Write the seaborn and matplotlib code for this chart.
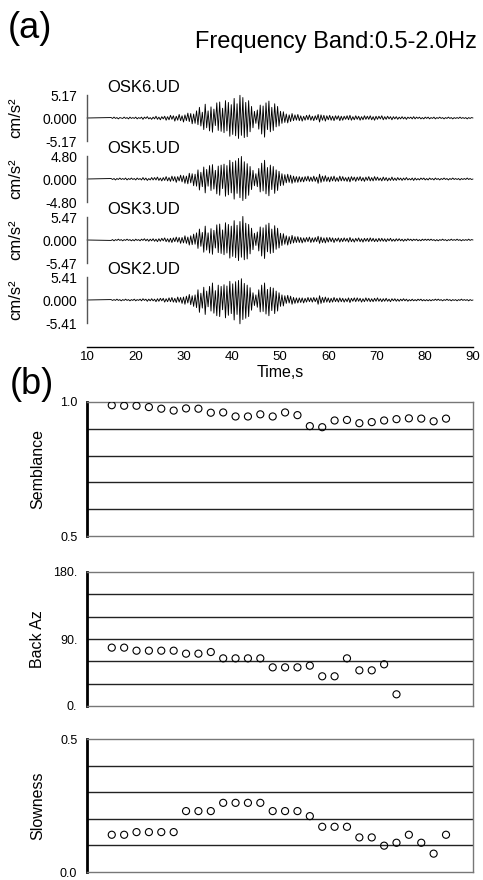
import numpy as np
import matplotlib
matplotlib.use("Agg")
import matplotlib.pyplot as plt
import seaborn as sns

# ---------------- data ----------------
stations = ["OSK6.UD", "OSK5.UD", "OSK3.UD", "OSK2.UD"]
amp_scale = [5.17, 4.80, 5.47, 5.41]
time_ticks = [10, 20, 30, 40, 50, 60, 70, 80, 90]
trace_start = 15.0   # s, first sample of the filtered traces
trace_dt = 0.3

osk6 = [0.1,-0.1,0.2,-0.1,0.1,-0.2,0.1,0.0,-0.1,0.2,
        -0.1,0.1,-0.2,0.2,-0.1,0.1,-0.1,0.2,-0.2,0.1,
        -0.1,0.2,-0.3,0.2,-0.1,0.3,-0.2,0.1,-0.3,0.2,
        -0.2,0.4,-0.3,0.2,-0.4,0.3,-0.2,0.4,-0.5,0.3,
        -0.4,0.6,-0.3,0.5,-0.7,0.4,-0.5,0.8,-0.6,0.5,
        -0.9,0.7,-0.6,1.1,-0.8,1.0,-1.3,0.9,-1.2,1.6,
        -1.5,2.4,-1.8,1.3,-2.6,3.1,-2.2,1.6,-2.9,2.5,
        -3.2,2.0,-1.7,3.4,-2.8,3.6,-3.0,2.2,-3.3,3.9,
        -2.9,3.5,-4.1,3.0,-3.7,4.4,-4.0,3.2,-4.6,5.1,
        -3.9,4.6,-4.4,3.5,-4.2,3.9,-3.1,2.6,-2.2,1.5,
        -1.2,1.8,-2.5,2.9,-3.6,2.7,-4.3,3.4,-2.6,3.8,
        -3.1,2.4,-2.8,3.2,-2.0,2.6,-1.8,1.5,-1.2,1.4,
        -1.0,0.9,-1.1,0.7,-0.8,1.0,-0.6,0.7,-0.5,0.8,
        -0.6,0.5,-0.7,0.4,-0.5,0.6,-0.4,0.7,-0.5,0.4,
        -0.6,0.5,-0.4,0.8,-0.9,0.7,-0.5,0.6,-0.7,0.5,
        -0.4,0.6,-0.5,0.4,-0.6,0.5,-0.3,0.5,-0.6,0.4,
        -0.5,0.4,-0.3,0.5,-0.4,0.6,-0.5,0.3,-0.4,0.5,
        -0.3,0.4,-0.5,0.3,-0.4,0.5,-0.3,0.4,-0.3,0.5,
        -0.4,0.3,-0.5,0.4,-0.3,0.4,-0.2,0.5,-0.4,0.3,
        -0.3,0.4,-0.2,0.3,-0.4,0.3,-0.2,0.3,-0.3,0.2,
        -0.2,0.3,-0.2,0.2,-0.3,0.2,-0.1,0.2,-0.2,0.3,
        -0.2,0.2,-0.1,0.2,-0.2,0.1,-0.2,0.2,-0.1,0.2,
        -0.2,0.1,-0.1,0.2,-0.2,0.1,-0.1,0.2,-0.1,0.1,
        -0.2,0.1,-0.1,0.2,-0.1,0.1,-0.2,0.1,-0.1,0.1,
        -0.1,0.2,-0.1,0.1,-0.1,0.1,-0.2,0.1,-0.1,0.1,0.0]

osk5 = [0.1,-0.1,0.1,-0.2,0.1,-0.1,0.2,-0.1,0.1,-0.1,
        0.2,-0.2,0.1,-0.1,0.2,-0.1,0.1,-0.2,0.2,-0.1,
        0.1,-0.2,0.3,-0.2,0.2,-0.3,0.1,-0.2,0.3,-0.2,
        0.3,-0.2,0.4,-0.3,0.2,-0.4,0.3,-0.3,0.5,-0.4,
        0.3,-0.5,0.6,-0.4,0.5,-0.7,0.5,-0.4,0.8,-0.6,
        0.7,-0.9,0.6,-1.0,1.2,-0.8,1.1,-1.4,1.0,-1.5,
        1.9,-2.3,1.4,-1.6,2.5,-2.9,2.0,-1.5,2.8,-2.4,
        3.0,-2.1,1.8,-3.1,2.7,-3.4,2.9,-2.0,3.1,-3.6,
        2.8,-3.3,3.9,-2.9,3.5,-4.2,3.8,-3.0,4.3,-3.9,
        4.7,-4.5,3.6,-4.1,3.2,-3.4,2.6,-2.2,1.8,-1.4,
        1.1,-1.6,2.2,-2.7,3.3,-2.5,3.9,-3.1,2.4,-3.5,
        2.9,-2.2,2.6,-3.0,1.9,-2.4,1.6,-1.4,1.1,-1.3,
        0.9,-0.8,1.0,-0.7,0.8,-0.9,0.6,-0.7,0.5,-0.7,
        0.5,-0.6,0.4,-0.6,0.5,-0.4,0.6,-0.5,0.4,-0.5,
        0.6,-0.5,0.4,-0.9,1.0,-0.7,0.6,-0.5,0.7,-0.5,
        0.4,-0.6,0.5,-0.4,0.6,-0.5,0.3,-0.5,0.6,-0.4,
        0.5,-0.4,0.3,-0.5,0.4,-0.6,0.5,-0.3,0.4,-0.5,
        0.4,-0.3,0.5,-0.4,0.3,-0.5,0.4,-0.3,0.5,-0.4,
        0.3,-0.4,0.5,-0.3,0.4,-0.3,0.2,-0.4,0.4,-0.3,
        0.3,-0.4,0.2,-0.3,0.4,-0.3,0.2,-0.3,0.3,-0.2,
        0.2,-0.3,0.2,-0.2,0.3,-0.2,0.1,-0.2,0.2,-0.3,
        0.2,-0.2,0.1,-0.2,0.2,-0.1,0.2,-0.2,0.1,-0.2,
        0.2,-0.1,0.1,-0.2,0.2,-0.1,0.1,-0.2,0.1,-0.1,
        0.2,-0.1,0.1,-0.2,0.1,-0.1,0.2,-0.1,0.1,-0.1,
        0.1,-0.2,0.1,-0.1,0.1,-0.1,0.2,-0.1,0.1,-0.1,0.0]

osk3 = [-0.1,0.1,-0.2,0.1,-0.1,0.2,-0.1,0.1,-0.2,0.1,
        -0.1,0.2,-0.1,0.1,-0.2,0.1,-0.2,0.2,-0.1,0.1,
        -0.2,0.2,-0.1,0.3,-0.2,0.2,-0.3,0.2,-0.2,0.3,
        -0.3,0.2,-0.4,0.3,-0.3,0.4,-0.2,0.5,-0.4,0.3,
        -0.5,0.4,-0.6,0.5,-0.4,0.7,-0.5,0.6,-0.8,0.6,
        -0.7,1.0,-0.8,0.7,-1.2,1.0,-1.1,1.4,-1.0,1.7,
        -2.0,2.6,-1.5,1.8,-2.9,3.3,-2.4,1.7,-3.1,2.7,
        -3.4,2.3,-1.9,3.6,-3.0,3.8,-3.2,2.4,-3.5,4.1,
        -3.1,3.7,-4.3,3.3,-3.9,4.6,-4.2,3.5,-4.9,4.4,
        -4.1,5.6,-4.7,4.0,-4.5,3.7,-3.3,2.8,-2.3,1.6,
        -1.3,1.9,-2.6,3.1,-3.8,2.9,-4.4,3.6,-2.8,4.0,
        -3.2,2.6,-3.0,3.4,-2.2,2.8,-1.9,1.6,-1.3,1.5,
        -1.0,1.0,-1.2,0.8,-0.9,1.1,-0.7,0.8,-0.6,0.8,
        -0.6,0.6,-0.7,0.5,-0.5,0.6,-0.4,0.7,-0.6,0.5,
        -0.5,0.6,-0.4,0.9,-0.8,0.7,-0.6,0.5,-0.7,0.6,
        -0.5,0.6,-0.4,0.5,-0.6,0.4,-0.3,0.5,-0.5,0.4,
        -0.4,0.5,-0.3,0.4,-0.5,0.6,-0.4,0.3,-0.5,0.4,
        -0.3,0.5,-0.4,0.3,-0.5,0.4,-0.3,0.4,-0.4,0.5,
        -0.3,0.4,-0.4,0.3,-0.4,0.4,-0.3,0.4,-0.3,0.3,
        -0.4,0.3,-0.2,0.4,-0.3,0.2,-0.3,0.3,-0.2,0.3,
        -0.2,0.2,-0.3,0.2,-0.2,0.3,-0.1,0.2,-0.2,0.2,
        -0.1,0.2,-0.2,0.1,-0.2,0.2,-0.1,0.2,-0.1,0.2,
        -0.1,0.2,-0.1,0.1,-0.2,0.1,-0.2,0.1,-0.1,0.2,
        -0.1,0.1,-0.2,0.1,-0.1,0.2,-0.1,0.1,-0.1,0.2,
        -0.1,0.1,-0.2,0.1,-0.1,0.1,-0.1,0.2,-0.1,0.1,0.0]

osk2 = [0.1,-0.1,0.1,-0.1,0.2,-0.1,0.1,-0.2,0.1,-0.1,
        0.2,-0.1,0.1,-0.2,0.1,-0.1,0.2,-0.2,0.1,-0.1,
        0.2,-0.2,0.3,-0.1,0.2,-0.3,0.2,-0.2,0.3,-0.2,
        0.2,-0.4,0.3,-0.3,0.4,-0.2,0.4,-0.5,0.3,-0.4,
        0.5,-0.4,0.6,-0.5,0.4,-0.6,0.7,-0.5,0.6,-0.8,
        0.7,-1.0,0.9,-0.7,1.3,-1.1,1.0,-1.5,1.2,-1.8,
        2.4,-2.9,1.6,-1.9,3.0,-3.4,2.1,-1.6,3.2,-2.6,
        4.0,-3.1,2.2,-3.7,3.5,-3.9,3.2,-2.3,3.6,-4.2,
        3.3,-3.6,4.4,-3.2,3.8,-4.7,4.3,-3.4,4.6,-5.6,
        5.0,-4.6,3.9,-4.3,3.5,-3.9,2.9,-2.4,1.7,-1.3,
        1.2,-1.7,2.4,-2.8,3.5,-2.7,4.0,-3.3,2.5,-3.7,
        3.0,-2.5,2.8,-3.2,2.1,-2.6,1.7,-1.5,1.2,-1.4,
        1.0,-0.8,1.1,-0.7,0.9,-1.0,0.6,-0.8,0.5,-0.7,
        0.5,-0.6,0.5,-0.7,0.4,-0.5,0.6,-0.4,0.5,-0.5,
        0.6,-0.4,0.5,-1.0,1.0,-0.8,0.6,-0.6,0.7,-0.5,
        0.5,-0.6,0.4,-0.5,0.6,-0.4,0.4,-0.5,0.5,-0.4,
        0.4,-0.5,0.3,-0.4,0.5,-0.6,0.4,-0.3,0.5,-0.4,
        0.5,-0.3,0.4,-0.5,0.3,-0.4,0.5,-0.3,0.4,-0.4,
        0.3,-0.4,0.4,-0.3,0.5,-0.3,0.3,-0.4,0.3,-0.3,
        0.4,-0.3,0.2,-0.4,0.3,-0.2,0.3,-0.3,0.2,-0.3,
        0.2,-0.2,0.3,-0.2,0.2,-0.3,0.1,-0.2,0.2,-0.2,
        0.1,-0.2,0.2,-0.1,0.2,-0.2,0.1,-0.2,0.1,-0.2,
        0.1,-0.2,0.1,-0.1,0.2,-0.1,0.2,-0.1,0.1,-0.2,
        0.1,-0.1,0.2,-0.1,0.1,-0.2,0.1,-0.1,0.1,-0.2,
        0.1,-0.1,0.2,-0.1,0.1,-0.1,0.1,-0.2,0.1,-0.1,0.0]

traces = [osk6, osk5, osk3, osk2]

# array-analysis results per time window (window index 0..27)
semblance = [0.988, 0.986, 0.986, 0.981, 0.975, 0.968, 0.976, 0.975, 0.960, 0.961,
             0.946, 0.946, 0.954, 0.946, 0.961, 0.951, 0.910, 0.906, 0.931, 0.933,
             0.921, 0.925, 0.931, 0.936, 0.939, 0.938, 0.928, 0.938]
back_az = [78.4, 78.4, 74.3, 74.3, 74.3, 74.3, 70.3, 70.3, 72.5, 64.0,
           64.0, 64.0, 64.0, 51.9, 51.9, 51.9, 54.2, 39.9, 39.9, 64.0,
           47.9, 47.9, 56.0, 15.7]
slowness = [0.140, 0.140, 0.150, 0.150, 0.150, 0.150, 0.229, 0.229, 0.229, 0.260,
            0.260, 0.260, 0.260, 0.229, 0.229, 0.229, 0.210, 0.170, 0.170, 0.170,
            0.130, 0.130, 0.099, 0.110, 0.140, 0.110, 0.069, 0.140]

# ---------------- style ----------------
sns.set_style("white")
plt.rcParams["font.family"] = ["Liberation Sans", "DejaVu Sans"]
plt.rcParams["axes.linewidth"] = 1.0
for key in ["text.color", "axes.labelcolor", "xtick.color", "ytick.color",
            "xtick.labelcolor", "ytick.labelcolor"]:
    plt.rcParams[key] = "black"

W, H = 483, 880
fig = plt.figure(figsize=(W / 100, H / 100), dpi=100)


def add_px(l, t, r, b):
    return fig.add_axes([l / W, 1 - b / H, (r - l) / W, (b - t) / H])


L, R = 87, 473

# ---------------- panel (a): traces ----------------
centers = [118, 179, 240, 300]
HALF, HH = 23, 30
for name, sc, vals, c in zip(stations, amp_scale, traces, centers):
    ax = add_px(L, c - HH, R, c + HH)
    ax.patch.set_alpha(0)
    tt = np.concatenate([[10.0], trace_start + trace_dt * np.arange(len(vals))])
    yy = np.concatenate([[0.0], np.asarray(vals, float)])
    sns.lineplot(x=tt, y=yy, ax=ax, color="black", linewidth=0.65,
                 estimator=None, sort=False, legend=False)
    for ln in ax.lines:
        ln.set_clip_on(False)
    ax.set_xlim(10, 90)
    lim = sc * HH / HALF
    ax.set_ylim(-lim, lim)
    for sp in ["top", "right", "bottom"]:
        ax.spines[sp].set_visible(False)
    ax.spines["left"].set_bounds(-sc, sc)
    ax.spines["left"].set_color("#555555")
    ax.set_xticks([])
    ax.set_yticks([-sc, 0, sc])
    ax.set_yticklabels([f"{-sc:.2f}", "0.000", f"{sc:.2f}"])
    ax.tick_params(axis="y", direction="in", length=6, width=1, color="#555555",
                   labelsize=10, pad=7)
    ax.set_xlabel("")
    ax.set_ylabel("cm/s²", fontsize=12)
    ax.yaxis.set_label_coords((23 - L) / (R - L), 0.5)
    ax.text((107 - L) / (R - L), 0.5 + 31 / (2 * HH), name, transform=ax.transAxes,
            fontsize=12, ha="left", va="center")

# time axis
axt = add_px(L, 320, R, 347)
axt.patch.set_alpha(0)
for sp in ["top", "right", "left"]:
    axt.spines[sp].set_visible(False)
axt.spines["bottom"].set_color("black")
axt.set_xlim(10, 90)
axt.set_yticks([])
axt.set_xticks(time_ticks)
axt.set_xticklabels([str(v) for v in time_ticks])
axt.tick_params(axis="x", direction="in", length=7, width=1, labelsize=9.5, pad=3)
axt.set_xlabel("Time,s", fontsize=11.5, labelpad=1)

fig.text(8 / W, 1 - 28 / H, "(a)", fontsize=26, ha="left", va="center")
fig.text(477 / W, 1 - 42 / H, "Frequency Band:0.5-2.0Hz", fontsize=17,
         ha="right", va="center")
fig.text(10 / W, 1 - 384 / H, "(b)", fontsize=26, ha="left", va="center")

# ---------------- panel (b): array results ----------------
win = np.arange(len(semblance))
panels = [
    (402, 536, semblance, (0.5, 1.0), [0.5, 1.0], ["0.5", "1.0"],
     [0.6, 0.7, 0.8, 0.9], "Semblance"),
    (572, 706, back_az, (0, 180), [0, 90, 180], ["0.", "90.", "180."],
     [30, 60, 90, 120, 150], "Back Az"),
    (739, 872, slowness, (0.0, 0.5), [0.0, 0.5], ["0.0", "0.5"],
     [0.1, 0.2, 0.3, 0.4], "Slowness"),
]
for top, bot, vals, ylim, ticks, labels, grid, ylabel in panels:
    ax = add_px(L, top, R, bot)
    for yv in grid:
        ax.axhline(yv, color="#222222", linewidth=1.0, zorder=1)
    sns.scatterplot(x=win[:len(vals)], y=vals, ax=ax, marker="o", s=26,
                    facecolor="none", edgecolor="black", linewidth=0.8,
                    zorder=3, legend=False)
    ax.set_xlim(-2.0, 29.18)
    ax.set_ylim(*ylim)
    ax.set_xticks([])
    ax.set_yticks(ticks)
    ax.set_yticklabels(labels)
    ax.tick_params(axis="y", direction="in", length=8, width=2, color="black",
                   labelsize=9, pad=7)
    for sp in ["top", "right", "bottom"]:
        ax.spines[sp].set_color("#777777")
        ax.spines[sp].set_linewidth(1.0)
    ax.spines["left"].set_color("black")
    ax.spines["left"].set_linewidth(2.0)
    ax.set_xlabel("")
    ax.set_ylabel(ylabel, fontsize=11.5)
    ax.yaxis.set_label_coords((45 - L) / (R - L), 0.5)

fig.savefig("out.png", dpi=100)
